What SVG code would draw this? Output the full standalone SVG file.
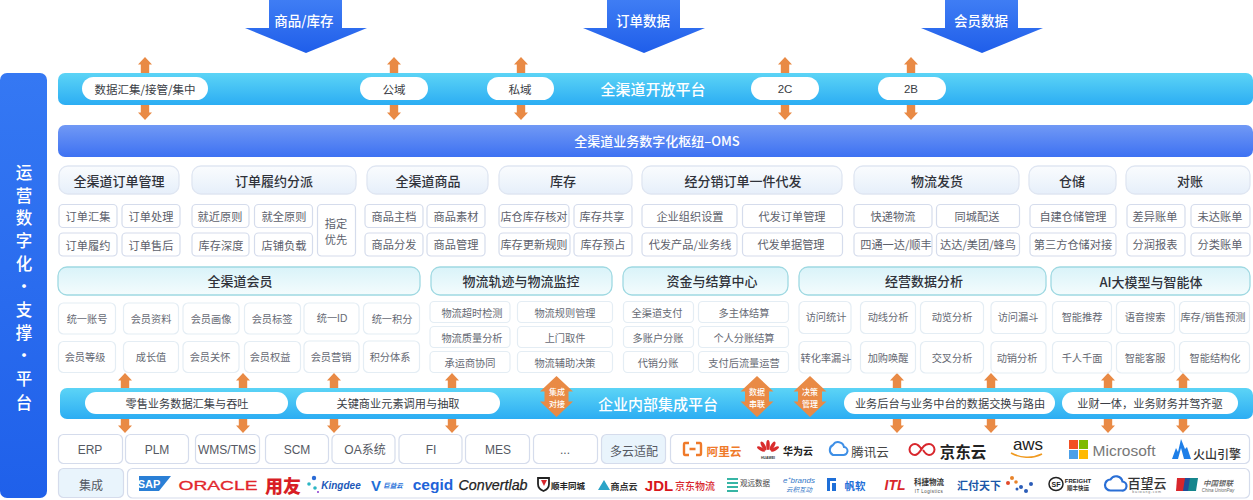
<svg xmlns="http://www.w3.org/2000/svg" width="1253" height="500" viewBox="0 0 1253 500">
<style>
text{font-family:"Noto Sans CJK SC","Noto Sans",sans-serif;text-anchor:middle;dominant-baseline:central}
.lat{font-family:"Liberation Sans","Noto Sans CJK SC",sans-serif}
.w{fill:#fff}.wm{fill:#fff;font-weight:500}
.pill{fill:#fff}.pt{font-size:11.5px;fill:#3a3d45}.pt2{font-size:11.2px;fill:#3a3d45}
.h1{fill:url(#gh1);stroke:#dfe6f2;stroke-width:1.3}.h2{fill:url(#gh2);stroke:#9fd9e2;stroke-width:1.3}
.ht{font-size:13px;font-weight:500;fill:#2f323a}
.c1{fill:#fff;stroke:#d5dcec;stroke-width:1.2}.c2{fill:#fff;stroke:#e4edf4;stroke-width:1.2}
.ct{font-size:11.2px;fill:#5d616c}.ct2{font-size:10.2px;fill:#666a74}
.b{fill:#fff;stroke:#d5dcec;stroke-width:1.2}.bl{fill:#e9f4fc;stroke:#d5dcec;stroke-width:1.2}
.bt{font-size:12px;fill:#555963}
.ar{fill:#e98a45}
.dt{font-size:8px;fill:#fff;font-weight:500}
.side{fill:#fff;font-weight:500;font-size:16.500px}
</style>
<defs>
<linearGradient id="gbar" x1="0" y1="0" x2="0" y2="1"><stop offset="0" stop-color="#5cd4f6"/><stop offset="1" stop-color="#2cadf3"/></linearGradient>
<linearGradient id="goms" x1="0" y1="0" x2="0" y2="1"><stop offset="0" stop-color="#7199f5"/><stop offset="1" stop-color="#3d71f2"/></linearGradient>
<linearGradient id="gleft" x1="0" y1="0" x2="0" y2="1"><stop offset="0" stop-color="#3578f3"/><stop offset="1" stop-color="#1f60ea"/></linearGradient>
<linearGradient id="gbig" x1="0" y1="0" x2="0" y2="1"><stop offset="0" stop-color="#3f7df4"/><stop offset="1" stop-color="#1f5eea"/></linearGradient>
<linearGradient id="gh1" x1="0" y1="0" x2="0" y2="1"><stop offset="0" stop-color="#fafcfe"/><stop offset="1" stop-color="#e6effa"/></linearGradient>
<linearGradient id="gh2" x1="0" y1="0" x2="0" y2="1"><stop offset="0" stop-color="#d9f3f9"/><stop offset="1" stop-color="#f4fcfd"/></linearGradient>
<path id="up" class="ar" d="M0-8 7-.5H4.200V8H-4.200V-.5H-7Z"/>
<path id="dn" class="ar" d="M0 8 7 .5H4.200V-8H-4.200V.5H-7Z"/>
<path id="big" fill="url(#gbig)" d="M-37 0H36V28H61L0 53-61 28H-37Z"/>
<path id="dbl" class="ar" d="M0-20.500 16.500-5H12V5H16.500L0 20.500-16.500 5H-12V-5H-16.500Z"/>
</defs>
<rect width="1253" height="500" fill="#fff"/>

<g id="platform-side"><rect x="0" y="73" width="47" height="425" rx="7" fill="url(#gleft)"/>
<text x="24" y="172" class="side">运</text><text x="24" y="195" class="side">营</text><text x="24" y="217" class="side">数</text><text x="24" y="240" class="side">字</text><text x="24" y="263" class="side">化</text><text x="24" y="286" class="side">·</text><text x="24" y="309" class="side">支</text><text x="24" y="332" class="side">撑</text><text x="24" y="355" class="side">·</text><text x="24" y="378" class="side">平</text><text x="24" y="402" class="side">台</text></g>

<g id="connectors">
<use href="#big" x="306" y="0"/><use href="#big" x="644" y="0"/><use href="#big" x="982" y="0"/>
<use href="#up" x="145" y="65"/><use href="#dn" x="145" y="112"/>
<use href="#up" x="394" y="65"/><use href="#dn" x="394" y="112"/>
<use href="#up" x="521" y="65"/><use href="#dn" x="521" y="112"/>
<use href="#up" x="785" y="65"/><use href="#dn" x="785" y="112"/>
<use href="#up" x="911" y="65"/><use href="#dn" x="911" y="112"/>
<use href="#up" x="125" y="381"/><use href="#dn" x="125" y="425"/>
<use href="#up" x="243" y="381"/><use href="#dn" x="243" y="425"/>
<use href="#up" x="334" y="381"/><use href="#dn" x="334" y="425"/>
<use href="#up" x="452" y="381"/><use href="#dn" x="452" y="425"/>
<use href="#up" x="897" y="381"/><use href="#dn" x="897" y="425"/>
<use href="#up" x="991" y="381"/><use href="#dn" x="991" y="425"/>
<use href="#up" x="1108" y="381"/><use href="#dn" x="1108" y="425"/>
<use href="#up" x="1183" y="381"/><use href="#dn" x="1183" y="425"/>
</g>
<g id="big-labels"><text x="304" y="20" class="wm" font-size="13.500">商品/库存</text><text x="643" y="20" class="wm" font-size="13.500">订单数据</text><text x="981" y="20" class="wm" font-size="13.500">会员数据</text></g>

<g id="open-platform"><rect x="58" y="73" width="1195" height="32" rx="7" fill="url(#gbar)"/>
<text x="653" y="88" class="wm" font-size="15">全渠道开放平台</text>
<rect class="pill" x="82" y="77" width="126" height="23" rx="11.500"/><text class="pt" x="145" y="88.500">数据汇集/接管/集中</text>
<rect class="pill" x="360" y="77" width="68" height="23" rx="11.500"/><text class="pt" x="394" y="88.500">公域</text>
<rect class="pill" x="487" y="77" width="67" height="23" rx="11.500"/><text class="pt" x="520" y="88.500">私域</text>
<rect class="pill" x="751" y="77" width="68" height="23" rx="11.500"/><text class="pt lat" x="785" y="88.500">2C</text>
<rect class="pill" x="878" y="77" width="68" height="23" rx="11.500"/><text class="pt lat" x="911" y="88.500">2B</text></g>

<g id="oms"><rect x="58" y="125" width="1195" height="32" rx="7" fill="url(#goms)"/><text x="657" y="140" class="wm" font-size="13">全渠道业务数字化枢纽–OMS</text></g>

<g id="order-mgmt"><rect class="h1" x="59" y="166" width="120" height="28" rx="9"/><text class="ht" x="119" y="180">全渠道订单管理</text>
<rect class="c1" x="59" y="204.500" width="58" height="23" rx="4"/><text class="ct" x="88" y="216">订单汇集</text>
<rect class="c1" x="122" y="204.500" width="58" height="23" rx="4"/><text class="ct" x="151" y="216">订单处理</text>
<rect class="c1" x="59" y="233" width="58" height="23" rx="4"/><text class="ct" x="88" y="245">订单履约</text>
<rect class="c1" x="122" y="233" width="58" height="23" rx="4"/><text class="ct" x="151" y="245">订单售后</text></g>

<g id="fulfil"><rect class="h1" x="192" y="166" width="164" height="28" rx="9"/><text class="ht" x="274" y="180">订单履约分派</text>
<rect class="c1" x="192" y="204.500" width="57" height="23" rx="4"/><text class="ct" x="220" y="216">就近原则</text>
<rect class="c1" x="254.500" y="204.500" width="58" height="23" rx="4"/><text class="ct" x="284" y="216">就全原则</text>
<rect class="c1" x="192" y="233" width="57" height="23" rx="4"/><text class="ct" x="221" y="245">库存深度</text>
<rect class="c1" x="254.500" y="233" width="58" height="23" rx="4"/><text class="ct" x="284" y="245">店铺负载</text>
<rect class="c1" x="317.500" y="204.500" width="38" height="51.500" rx="4"/><text class="ct" x="336" y="223">指定</text><text class="ct" x="336" y="239">优先</text></g>

<g id="goods"><rect class="h1" x="367" y="166" width="121" height="28" rx="9"/><text class="ht" x="428" y="180">全渠道商品</text>
<rect class="c1" x="365" y="204.500" width="58" height="23" rx="4"/><text class="ct" x="394" y="216">商品主档</text>
<rect class="c1" x="427" y="204.500" width="58" height="23" rx="4"/><text class="ct" x="456" y="216">商品素材</text>
<rect class="c1" x="365" y="233" width="58" height="23" rx="4"/><text class="ct" x="394" y="244">商品分发</text>
<rect class="c1" x="427" y="233" width="58" height="23" rx="4"/><text class="ct" x="456" y="244">商品管理</text></g>

<g id="stock"><rect class="h1" x="499" y="166" width="133" height="28" rx="9"/><text class="ht" x="563" y="180">库存</text>
<rect class="c1" x="499" y="204.500" width="70" height="23" rx="4"/><text class="ct" x="534" y="216">店仓库存核对</text>
<rect class="c1" x="574" y="204.500" width="58" height="23" rx="4"/><text class="ct" x="602" y="216">库存共享</text>
<rect class="c1" x="499" y="233" width="71" height="23" rx="4"/><text class="ct" x="534" y="244">库存更新规则</text>
<rect class="c1" x="574" y="233" width="58" height="23" rx="4"/><text class="ct" x="603" y="244">库存预占</text></g>

<g id="dropship"><rect class="h1" x="642" y="166" width="200" height="28" rx="9"/><text class="ht" x="743" y="180">经分销订单一件代发</text>
<rect class="c1" x="642" y="204.500" width="95" height="23" rx="4"/><text class="ct" x="690" y="216">企业组织设置</text>
<rect class="c1" x="742.500" y="204.500" width="100" height="23" rx="4"/><text class="ct" x="792" y="216">代发订单管理</text>
<rect class="c1" x="642" y="233" width="95" height="23" rx="4"/><text class="ct" x="690" y="244">代发产品/业务线</text>
<rect class="c1" x="742.500" y="233" width="100" height="23" rx="4"/><text class="ct" x="791" y="244">代发单据管理</text></g>

<g id="shipping"><rect class="h1" x="854" y="166" width="165" height="28" rx="9"/><text class="ht" x="937" y="180">物流发货</text>
<rect class="c1" x="854" y="204.500" width="78" height="23" rx="4"/><text class="ct" x="893" y="216">快递物流</text>
<rect class="c1" x="936.500" y="204.500" width="83" height="23" rx="4"/><text class="ct" x="977" y="216">同城配送</text>
<rect class="c1" x="854" y="233" width="78" height="23" rx="4"/><text class="ct" x="896" y="244">四通一达/顺丰</text>
<rect class="c1" x="936.500" y="233" width="83" height="23" rx="4"/><text class="ct" x="978" y="244">达达/美团/蜂鸟</text></g>

<g id="warehouse"><rect class="h1" x="1029" y="166" width="87" height="28" rx="9"/><text class="ht" x="1072" y="180">仓储</text>
<rect class="c1" x="1030" y="204.500" width="86" height="23" rx="4"/><text class="ct" x="1073" y="216">自建仓储管理</text>
<rect class="c1" x="1030" y="233" width="86" height="23" rx="4"/><text class="ct" x="1073" y="244">第三方仓储对接</text></g>

<g id="reconcile"><rect class="h1" x="1126" y="166" width="124" height="28" rx="9"/><text class="ht" x="1190" y="180">对账</text>
<rect class="c1" x="1127" y="204.500" width="58" height="23" rx="4"/><text class="ct" x="1155" y="216">差异账单</text>
<rect class="c1" x="1191" y="204.500" width="59" height="23" rx="4"/><text class="ct" x="1220" y="216">未达账单</text>
<rect class="c1" x="1127" y="233" width="58" height="23" rx="4"/><text class="ct" x="1155" y="244">分润报表</text>
<rect class="c1" x="1191" y="233" width="59" height="23" rx="4"/><text class="ct" x="1220" y="244">分类账单</text></g>

<g id="member"><rect class="h2" x="58" y="267" width="362" height="28" rx="9"/><text class="ht" x="240" y="280.500">全渠道会员</text>
<rect class="c2" x="58.500" y="303" width="57" height="31" rx="5"/><text class="ct2" x="87" y="318">统一账号</text>
<rect class="c2" x="123.500" y="303" width="55" height="31" rx="5"/><text class="ct2" x="151" y="318">会员资料</text>
<rect class="c2" x="183" y="303" width="56" height="31" rx="5"/><text class="ct2" x="211" y="318">会员画像</text>
<rect class="c2" x="244.500" y="303" width="56" height="31" rx="5"/><text class="ct2" x="272" y="318">会员标签</text>
<rect class="c2" x="304" y="303" width="55" height="31" rx="5"/><text class="ct2 lat" x="332" y="318">统一ID</text>
<rect class="c2" x="363.500" y="303" width="56" height="31" rx="5"/><text class="ct2" x="392" y="318">统一积分</text>
<rect class="c2" x="58.500" y="341.500" width="57" height="31" rx="5"/><text class="ct2" x="85" y="356">会员等级</text>
<rect class="c2" x="123.500" y="341.500" width="55" height="31" rx="5"/><text class="ct2" x="151" y="356">成长值</text>
<rect class="c2" x="183" y="341.500" width="56" height="31" rx="5"/><text class="ct2" x="210" y="356">会员关怀</text>
<rect class="c2" x="244.500" y="341.500" width="56" height="31" rx="5"/><text class="ct2" x="270" y="356">会员权益</text>
<rect class="c2" x="304" y="341" width="55" height="31.500" rx="5"/><text class="ct2" x="331" y="356">会员营销</text>
<rect class="c2" x="363.500" y="341" width="56" height="31.500" rx="5"/><text class="ct2" x="390" y="356">积分体系</text></g>

<g id="logistics"><rect class="h2" x="431" y="267" width="181" height="28" rx="9"/><text class="ht" x="521" y="280.500">物流轨迹与物流监控</text>
<rect class="c2" x="430" y="301.500" width="80" height="21" rx="4"/><text class="ct2" x="472" y="312">物流超时检测</text>
<rect class="c2" x="517.500" y="301.500" width="95" height="21" rx="4"/><text class="ct2" x="565" y="312">物流规则管理</text>
<rect class="c2" x="430" y="326.500" width="80" height="21" rx="4"/><text class="ct2" x="472" y="337">物流质量分析</text>
<rect class="c2" x="517.500" y="326.500" width="95" height="21" rx="4"/><text class="ct2" x="565" y="337">上门取件</text>
<rect class="c2" x="430" y="351.500" width="80" height="21" rx="4"/><text class="ct2" x="470" y="362">承运商协同</text>
<rect class="c2" x="517.500" y="351.500" width="95" height="21" rx="4"/><text class="ct2" x="565" y="362">物流辅助决策</text></g>

<g id="funds"><rect class="h2" x="623" y="267" width="165" height="28" rx="9"/><text class="ht" x="712" y="280.500">资金与结算中心</text>
<rect class="c2" x="623.500" y="301.500" width="70" height="21" rx="4"/><text class="ct2" x="657" y="312">全渠道支付</text>
<rect class="c2" x="698.500" y="301.500" width="90" height="21" rx="4"/><text class="ct2" x="744" y="312">多主体结算</text>
<rect class="c2" x="623.500" y="326.500" width="70" height="21" rx="4"/><text class="ct2" x="658" y="337">多账户分账</text>
<rect class="c2" x="698.500" y="326.500" width="90" height="21" rx="4"/><text class="ct2" x="744" y="337">个人分账结算</text>
<rect class="c2" x="623.500" y="351.500" width="70" height="21" rx="4"/><text class="ct2" x="658" y="362">代销分账</text>
<rect class="c2" x="698.500" y="351.500" width="90" height="21" rx="4"/><text class="ct2" x="744" y="362">支付后流量运营</text></g>

<g id="analytics"><rect class="h2" x="799" y="267" width="247" height="28" rx="9"/><text class="ht" x="924" y="280.500">经营数据分析</text>
<rect class="c2" x="799" y="301.500" width="52" height="32" rx="5"/><text class="ct2" x="826" y="316.500">访问统计</text>
<rect class="c2" x="860.500" y="301.500" width="55" height="32" rx="5"/><text class="ct2" x="888" y="316.500">动线分析</text>
<rect class="c2" x="920.500" y="301.500" width="63" height="32" rx="5"/><text class="ct2" x="952" y="316.500">动览分析</text>
<rect class="c2" x="991" y="301.500" width="55" height="32" rx="5"/><text class="ct2" x="1018" y="316.500">访问漏斗</text>
<rect class="c2" x="799" y="341.500" width="52" height="31.500" rx="5"/><text class="ct2" x="826" y="357">转化率漏斗</text>
<rect class="c2" x="860.500" y="341.500" width="55" height="31.500" rx="5"/><text class="ct2" x="888" y="357">加购唤醒</text>
<rect class="c2" x="920.500" y="341.500" width="63" height="31.500" rx="5"/><text class="ct2" x="952" y="357">交叉分析</text>
<rect class="c2" x="991" y="341.500" width="55" height="31.500" rx="5"/><text class="ct2" x="1017" y="357">动销分析</text></g>

<g id="ai"><rect class="h2" x="1051" y="267" width="199" height="28" rx="9"/><text class="ht" x="1151" y="281">AI大模型与智能体</text>
<rect class="c2" x="1052.500" y="301.500" width="59" height="32" rx="5"/><text class="ct2" x="1082" y="316.500">智能推荐</text>
<rect class="c2" x="1116.500" y="301.500" width="58" height="32" rx="5"/><text class="ct2" x="1145" y="316.500">语音搜索</text>
<rect class="c2" x="1179.500" y="301.500" width="70" height="32" rx="5"/><text class="ct2" x="1213" y="316.500">库存/销售预测</text>
<rect class="c2" x="1052.500" y="341.500" width="59" height="31.500" rx="5"/><text class="ct2" x="1082" y="357">千人千面</text>
<rect class="c2" x="1116.500" y="341.500" width="58" height="31.500" rx="5"/><text class="ct2" x="1145" y="357">智能客服</text>
<rect class="c2" x="1179.500" y="341.500" width="70" height="31.500" rx="5"/><text class="ct2" x="1215" y="357">智能结构化</text></g>

<g id="integration"><rect x="60" y="388" width="1193" height="31" rx="7" fill="url(#gbar)"/>
<text x="658" y="403" class="wm" font-size="15">企业内部集成平台</text>
<rect class="pill" x="85" y="392" width="203" height="22" rx="11"/><text class="pt2" x="187" y="403">零售业务数据汇集与吞吐</text>
<rect class="pill" x="296" y="392" width="204" height="22" rx="11"/><text class="pt2" x="398" y="403">关键商业元素调用与抽取</text>
<rect class="pill" x="844" y="392" width="211" height="22" rx="11"/><text class="pt2" x="950" y="403">业务后台与业务中台的数据交换与路由</text>
<rect class="pill" x="1062" y="392" width="176" height="22" rx="11"/><text class="pt2" x="1150" y="403">业财一体，业务财务并驾齐驱</text></g>
<g id="sync-a"><use href="#dbl" x="556.500" y="396.500"/><text class="dt" x="557" y="391">集成</text><text class="dt" x="557" y="403">对接</text></g>
<g id="sync-b"><use href="#dbl" x="757" y="396.500"/><text class="dt" x="757" y="391">数据</text><text class="dt" x="757" y="403">串联</text></g>
<g id="sync-c"><use href="#dbl" x="810" y="396.500"/><text class="dt" x="810" y="391">决策</text><text class="dt" x="810" y="403">管理</text></g>

<g id="systems">
<rect class="b" x="58.500" y="434.500" width="64" height="29" rx="5"/><text class="bt lat" x="90" y="450">ERP</text>
<rect class="b" x="125.500" y="434.500" width="63" height="29" rx="5"/><text class="bt lat" x="157" y="450">PLM</text>
<rect class="b" x="195.500" y="434.500" width="64" height="29" rx="5"/><text class="bt lat" x="227" y="450">WMS/TMS</text>
<rect class="b" x="265.500" y="434.500" width="63" height="29" rx="5"/><text class="bt lat" x="297" y="450">SCM</text>
<rect class="b" x="332" y="434.500" width="63" height="29" rx="5"/><text class="bt lat" x="365" y="450">OA系统</text>
<rect class="b" x="399" y="434.500" width="63" height="29" rx="5"/><text class="bt lat" x="431" y="450">FI</text>
<rect class="b" x="465.500" y="434.500" width="64" height="29" rx="5"/><text class="bt lat" x="498" y="450">MES</text>
<rect class="b" x="533.500" y="434.500" width="64" height="29" rx="5"/><text class="bt lat" x="565" y="450">...</text>
<rect class="bl" x="601.500" y="434.500" width="64" height="29" rx="5"/><text class="bt" x="634" y="450">多云适配</text>
</g>
<g id="cloud-logos"><rect class="b" x="670.500" y="434.500" width="579" height="29" rx="5"/>
<path d="M689 443H685Q684 443 684 445V453Q684 455 685 455H689M696 443H700Q701 443 701 445V453Q701 455 700 455H696M689.500 449H695.500" fill="none" stroke="#ef7a2a" stroke-width="2.400"/>
<text x="724" y="450" font-size="11.700" fill="#ef7a2a" font-weight="700">阿里云</text>
<g fill="#d92c2c"><ellipse cx="768" cy="445" rx="1.800" ry="5"/><ellipse cx="763.500" cy="446" rx="1.800" ry="5" transform="rotate(-30 763.500 446)"/><ellipse cx="772.500" cy="446" rx="1.800" ry="5" transform="rotate(30 772.500 446)"/><ellipse cx="761" cy="449" rx="1.600" ry="4.500" transform="rotate(-60 761 449)"/><ellipse cx="775" cy="449" rx="1.600" ry="4.500" transform="rotate(60 775 449)"/></g>
<text x="768" y="457.500" font-size="3.500" fill="#333" class="lat" font-weight="700">HUAWEI</text>
<text x="798" y="450" font-size="10" font-weight="700" fill="#222">华为云</text>
<path d="M833 455h10a4 4 0 0 0 1-8 6 6 0 0 0-11-2 5.500 5.500 0 0 0 0 10Z" fill="none" stroke="#3e8fe6" stroke-width="2"/>
<text x="870" y="451" font-size="12.500" fill="#444">腾讯云</text>
<path d="M922 450c-3-5-5-6-7-6a5.500 5.500 0 0 0 0 11c4 0 6-6 9-9 2-2 3-2 5-2a5.500 5.500 0 0 1 0 11c-3 0-4-2-6-5" fill="none" stroke="#d8262c" stroke-width="2"/>
<text x="963" y="450.500" font-size="15.500" font-weight="700" fill="#222">京东云</text>
<text x="1028" y="444.500" font-size="17" class="lat" fill="#222">aws</text>
<path d="M1011 453c9 5 21 6 31 1" fill="none" stroke="#f09a20" stroke-width="1.600"/>
<rect x="1069" y="440" width="9" height="9" fill="#f25022"/><rect x="1079" y="440" width="9" height="9" fill="#7fba00"/><rect x="1069" y="450" width="9" height="9" fill="#4a9fe8"/><rect x="1079" y="450" width="9" height="9" fill="#ffb900"/>
<text x="1124" y="450" font-size="15.500" class="lat" fill="#777">Microsoft</text>
<path d="M1172 459 1176 448 1178 452 1181 439 1185 449 1187 447 1191 459 1184 459 1181 448 1178 459Z" fill="#1e7fe8"/>
<text x="1217" y="453" font-size="12" fill="#333" font-weight="500">火山引擎</text></g>

<g id="integration-label"><rect class="bl" x="58.500" y="468.500" width="65" height="29" rx="5"/><text class="bt" x="91" y="484">集成</text></g>
<g id="partner-logos"><rect class="b" x="127.500" y="468.500" width="1122" height="29.500" rx="5"/>
<path d="M139 476H171L159 491H139Z" fill="#2a7fd6"/><text x="149" y="484" font-size="11" font-weight="700" class="lat" fill="#fff">SAP</text>
<text x="218" y="485" font-size="13.500" class="lat" fill="#e2262c" stroke="#e2262c" stroke-width=".3" textLength="79" lengthAdjust="spacingAndGlyphs">ORACLE</text>
<text x="283" y="484.500" font-size="18" font-weight="900" fill="#d81e26">用友</text>
<circle cx="314" cy="478" r="2.200" fill="#2a6bd6"/><circle cx="309" cy="484" r="1.800" fill="#2cb6c4"/><circle cx="315" cy="488" r="1.800" fill="#2cb6c4"/><circle cx="318" cy="492" r="1" fill="#8a3bd0"/>
<text x="341" y="485" font-size="10" font-weight="700" font-style="italic" class="lat" fill="#2158b8">Kingdee</text>
<text x="376" y="485" font-size="15" font-weight="700" class="lat" fill="#1e6fd8">V</text><text x="393" y="485" font-size="6.500" font-style="italic" font-weight="700" fill="#1e6fd8">巨益云</text>
<text x="433" y="484" font-size="15.500" font-weight="700" class="lat" fill="#1e63d8">cegid</text>
<text x="493" y="485" font-size="14.500" font-style="italic" class="lat" fill="#222" stroke="#222" stroke-width=".25" textLength="69" lengthAdjust="spacingAndGlyphs">Convertlab</text>
<path d="M538 478h11v6c0 4-3 6-5.500 7-2.500-1-5.500-3-5.500-7Z" fill="none" stroke="#222" stroke-width="1.800"/><path d="M541 480h6l-3 6Z" fill="#d8262c"/>
<text x="568" y="485" font-size="8.500" font-weight="700" fill="#222">顺丰同城</text>
<path d="M598 490 604 480 610 490Z" fill="#2ba4c8"/>
<text x="624" y="486" font-size="9" font-weight="700" fill="#333">商点云</text>
<text x="659" y="485" font-size="15" font-weight="700" class="lat" fill="#d8161c">JDL</text>
<text x="695" y="485" font-size="10" font-weight="500" fill="#d8262c">京东物流</text>
<g fill="#37b5a5"><rect x="727" y="478" width="11" height="2"/><rect x="727" y="482" width="11" height="2"/><rect x="727" y="486" width="11" height="2"/><rect x="727" y="490" width="11" height="2"/></g>
<text x="755" y="482" font-size="7.500" fill="#444">观远数据</text>
<text x="799" y="480" font-size="8" font-style="italic" class="lat" fill="#3478c8">e⁺brands</text><text x="799" y="489" font-size="6.500" fill="#3478c8" font-style="italic">云积互动</text>
<path d="M827 478H836V481H830V491H827ZM832 483H836V491H832Z" fill="#1e6fd8"/>
<text x="855" y="485" font-size="10.500" font-weight="700" fill="#1e6fd8">帆软</text>
<text x="895" y="485" font-size="14" font-weight="700" font-style="italic" class="lat" fill="#d8262c">ITL</text>
<text x="929" y="481" font-size="7.500" font-weight="700" fill="#333">科捷物流</text><text x="929" y="491" font-size="4.500" class="lat" fill="#444" letter-spacing=".5">IT Logistics</text>
<text x="979" y="485" font-size="11" font-weight="700" fill="#1a56a8">汇付天下</text>
<circle cx="1012" cy="478" r="2" fill="#e8832a"/><circle cx="1008" cy="483" r="2" fill="#e24a2a"/><circle cx="1016" cy="482" r="1.800" fill="#e8832a"/><circle cx="1021" cy="487" r="2" fill="#2a5cb8"/><circle cx="1026" cy="491" r="2" fill="#2a5cb8"/><circle cx="1031" cy="484" r="2" fill="#2a5cb8"/><circle cx="1017" cy="489" r="1.500" fill="#2a5cb8"/>
<ellipse cx="1056" cy="484" rx="7" ry="6.500" fill="none" stroke="#222" stroke-width="1.500"/><text x="1056" y="484" font-size="7" font-weight="700" class="lat" fill="#222">SF</text>
<text x="1078" y="481" font-size="6" font-weight="700" class="lat" fill="#222">FREIGHT</text><text x="1078" y="488" font-size="5.500" font-weight="700" fill="#333">顺丰快运</text>
<path d="M1111 491h11a4.500 4.500 0 0 0 1-9 6.500 6.500 0 0 0-12-2 5.500 5.500 0 0 0 0 11Z" fill="none" stroke="#2a6fd6" stroke-width="2.200" transform="translate(-.5 -.5)"/>
<text x="1147" y="482" font-size="13" fill="#333" font-weight="500">百望云</text><text x="1147" y="492" font-size="3.500" class="lat" fill="#777" letter-spacing=".8">baiwang.com</text>
<path d="M1177 478H1186L1184 491H1176Z" fill="#d8262c"/><path d="M1185 478H1191L1189 491H1183Z" fill="#1f4f9a"/><path d="M1190 478H1198L1196 491H1188Z" fill="#15858c"/>
<text x="1218" y="482" font-size="7.500" font-style="italic" fill="#555" font-weight="500">中国银联</text><text x="1218" y="490" font-size="4.500" font-style="italic" class="lat" fill="#666">China UnionPay</text></g>
</svg>
